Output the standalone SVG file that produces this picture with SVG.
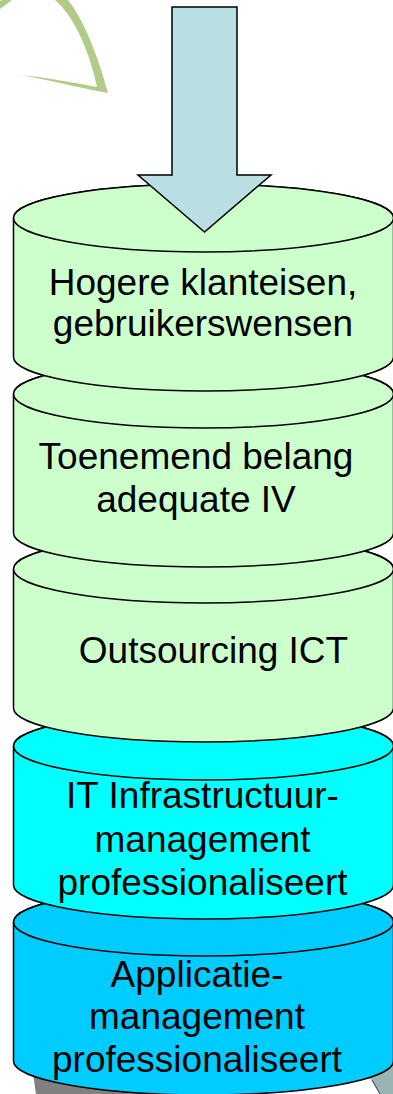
<svg xmlns="http://www.w3.org/2000/svg" width="393" height="1094" viewBox="0 0 393 1094">
<style>
.cyl{stroke:#000;stroke-width:1.5}
.g{fill:#CCFFCC}
.c{fill:#00FFFF}
.b{fill:#00CCFF}
text{font-family:"Liberation Sans",Arial,sans-serif;font-size:37px;fill:#000;text-anchor:middle}
</style>
<rect width="393" height="1094" fill="#fff"/>
<g id="deco">
<path d="M68,0 C80,15 95,45 108,93 C80,88 50,80 20,75 C50,78 75,83 97,87 C88,45 72,15 55,0 Z" fill="#B2CB87"/>
<polygon points="0,1 2,0 12,0 0,9" fill="#B2CB87"/>
<polygon points="31,1060 200,1060 200,1094 36,1094" fill="#808080"/>
<polygon points="330,1060 393,1060 393,1094 380,1094 372,1080" fill="#9CB3B5"/>
<path d="M372,1080 L380,1094" stroke="#333" stroke-width="1" fill="none"/>
</g>
<g id="n5">
<path class="cyl b" d="M13.5,922 V1061 A190,34 0 0,0 393.5,1061 V922 A190,34 0 0,0 13.5,922 Z"/>
<ellipse class="cyl b" cx="203.5" cy="922" rx="190" ry="34"/>
<text x="197" y="987">Applicatie-</text>
<text x="197" y="1029">management</text>
<text x="197" y="1072">professionaliseert</text>
</g>
<g id="n4">
<path class="cyl c" d="M13.5,746 V885 A190,34 0 0,0 393.5,885 V746 A190,34 0 0,0 13.5,746 Z"/>
<ellipse class="cyl c" cx="203.5" cy="746" rx="190" ry="34"/>
<text x="202.5" y="808">IT Infrastructuur-</text>
<text x="202.5" y="852">management</text>
<text x="202.5" y="895">professionaliseert</text>
</g>
<g id="n3">
<path class="cyl g" d="M13.5,569 V708 A190,34 0 0,0 393.5,708 V569 A190,34 0 0,0 13.5,569 Z"/>
<ellipse class="cyl g" cx="203.5" cy="569" rx="190" ry="34"/>
<text x="213.5" y="663">Outsourcing ICT</text>
</g>
<g id="n2">
<path class="cyl g" d="M13.5,394 V533 A190,34 0 0,0 393.5,533 V394 A190,34 0 0,0 13.5,394 Z"/>
<ellipse class="cyl g" cx="203.5" cy="394" rx="190" ry="34"/>
<text x="196" y="469">Toenemend belang</text>
<text x="196" y="512">adequate IV</text>
</g>
<g id="n1">
<path class="cyl g" d="M13.5,218 V357 A190,34 0 0,0 393.5,357 V218 A190,34 0 0,0 13.5,218 Z"/>
<ellipse class="cyl g" cx="203.5" cy="218" rx="190" ry="34"/>
<text x="203" y="295">Hogere klanteisen,</text>
<text x="203" y="336">gebruikerswensen</text>
</g>
<g id="connectors">
<polygon id="arrow" points="172,7 237,7 237,175 271,175 204.5,232 138,175 172,175" fill="#BADFE2" stroke="#000" stroke-width="1.5" stroke-linejoin="miter"/>
</g>
</svg>
